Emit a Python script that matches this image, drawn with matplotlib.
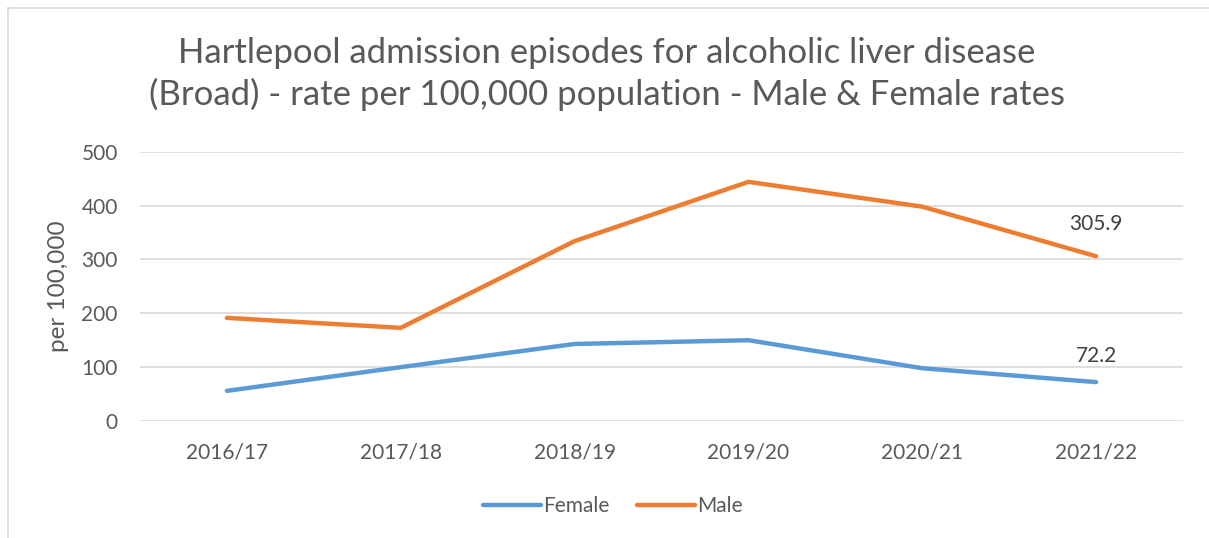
import matplotlib
matplotlib.use("Agg")
import matplotlib.pyplot as plt
from matplotlib.lines import Line2D

categories = ["2016/17", "2017/18", "2018/19", "2019/20", "2020/21", "2021/22"]
female = [56, 100, 143, 150, 98, 72.2]
male = [191.5, 173, 334, 444, 398, 305.9]
yticks = [0, 100, 200, 300, 400, 500]
title = "Hartlepool admission episodes for alcoholic liver disease\n(Broad) - rate per 100,000 population - Male & Female rates"

plt.rcParams['font.family'] = ['Lato', 'DejaVu Sans']
text_color = "#595959"
blue = "#5B9BD5"
orange = "#ED7D31"

W, H = 1209, 538
fig = plt.figure(figsize=(W / 100, H / 100), dpi=100)
# frame border (top and left visible)
fig.lines.append(Line2D([7.5 / W, 1], [1 - 7.5 / H, 1 - 7.5 / H], transform=fig.transFigure,
                        color="#D9D9D9", linewidth=1.2))
fig.lines.append(Line2D([7.5 / W, 7.5 / W], [0, 1 - 7.5 / H], transform=fig.transFigure,
                        color="#D9D9D9", linewidth=1.2))

left, right = 140, 1183
y0, y500 = 421, 151.7
ax = fig.add_axes([left / W, 1 - y0 / H, (right - left) / W, (y0 - y500) / H])
x = list(range(len(categories)))
ax.plot(x, female, color=blue, linewidth=3.2, solid_capstyle="round", label="Female")
ax.plot(x, male, color=orange, linewidth=3.2, solid_capstyle="round", label="Male")
ax.set_xlim(-0.5, len(categories) - 0.5)
ax.set_ylim(0, 500)
ax.set_yticks(yticks)
ax.set_xticks(x)
ax.set_xticklabels(categories)
ax.grid(axis="y", color="#D9D9D9", linewidth=1.2)
ax.set_axisbelow(True)
for s in ax.spines.values():
    s.set_visible(False)
ax.tick_params(axis="both", length=0, labelsize=15, colors=text_color, labelcolor=text_color)
ax.tick_params(axis="x", pad=15.5)
ax.tick_params(axis="y", pad=16)
ax.set_ylabel("per 100,000", fontsize=17.5, color=text_color, labelpad=9)

ax.annotate(f"{male[-1]:.1f}", (x[-1], male[-1]), xytext=(0, 23), textcoords="offset points",
            ha="center", va="center", fontsize=15, color="#404040")
ax.annotate(f"{female[-1]:.1f}", (x[-1], female[-1]), xytext=(0, 19), textcoords="offset points",
            ha="center", va="center", fontsize=15, color="#404040")

fig.text(607 / W, 1 - 74 / H, title, ha="center", va="center", fontsize=25, color=text_color,
         linespacing=1.3)

leg = fig.legend(loc="center", bbox_to_anchor=(613 / W, 1 - 506 / H), ncol=2, frameon=False,
                 fontsize=15, handlelength=2.8, handletextpad=0.1, columnspacing=1.3)
for t in leg.get_texts():
    t.set_color(text_color)

fig.savefig("out.png", dpi=100)
